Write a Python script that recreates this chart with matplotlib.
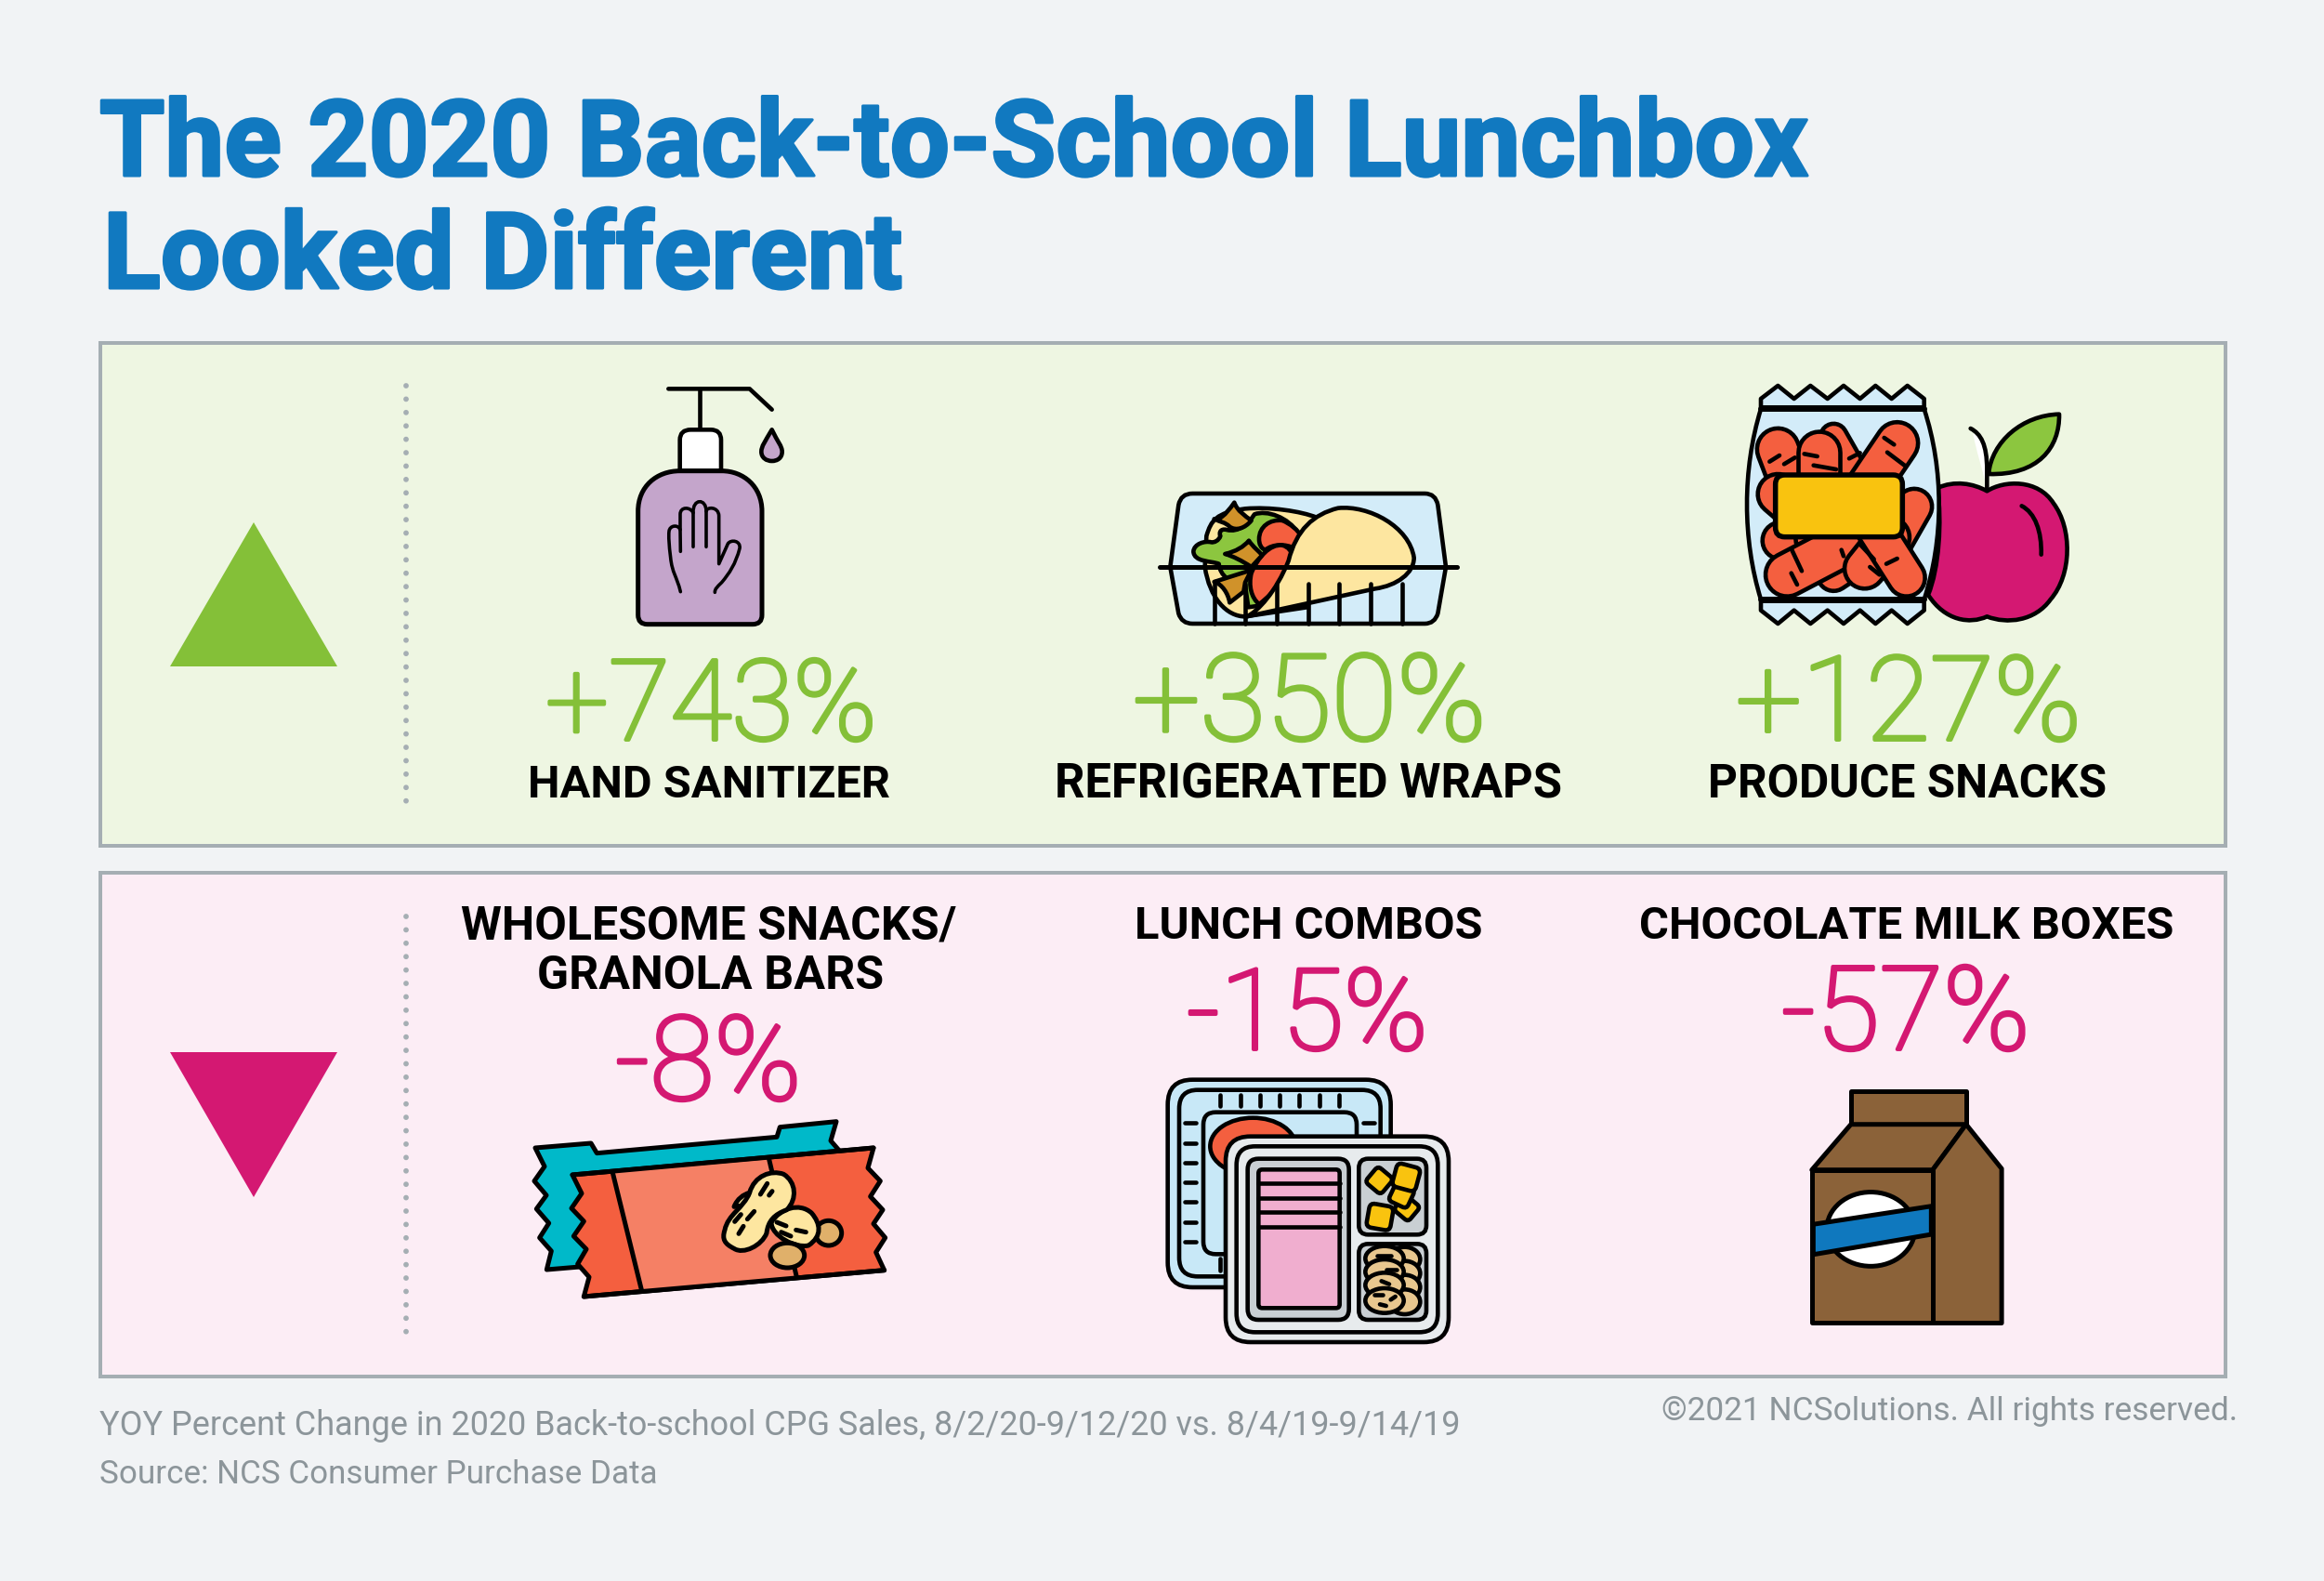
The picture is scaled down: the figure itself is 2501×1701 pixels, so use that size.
import re
import matplotlib
matplotlib.use("Agg")
import matplotlib.pyplot as plt
import matplotlib.patheffects as pe
from matplotlib.path import Path
from matplotlib.patches import PathPatch, Polygon, Rectangle, FancyBboxPatch, Ellipse
from matplotlib.font_manager import findfont, FontProperties
import numpy as np

# ---- data ----
TITLE_LINES = ["The 2020 Back-to-School Lunchbox", "Looked Different"]
UP_LABELS = ["HAND SANITIZER", "REFRIGERATED WRAPS", "PRODUCE SNACKS"]
UP_VALUES = [743, 350, 127]
DOWN_LABELS = [["WHOLESOME SNACKS/", "GRANOLA BARS"], ["LUNCH COMBOS"], ["CHOCOLATE MILK BOXES"]]
DOWN_VALUES = [-8, -15, -57]
NOTE_1 = "YOY Percent Change in 2020 Back-to-school CPG Sales, 8/2/20-9/12/20 vs. 8/4/19-9/14/19"
NOTE_2 = "Source: NCS Consumer Purchase Data"
COPYRIGHT = "©2021 NCSolutions. All rights reserved."

# ---- colours ----
BG = "#F1F3F5"; GREEN_BG = "#EEF6E2"; PINK_BG = "#FCEDF5"; BORDER = "#A5AEB3"
GREEN = "#84C038"; MAGENTA = "#D41872"; BLUE = "#1179C0"; GREY = "#8C959A"; K = "#000000"
ORANGE = "#F45F3F"; SKY = "#D3ECF9"; CREAM = "#FDE6A0"; LETTUCE = "#8CC63F"; MEAT = "#D0922A"
YELLOW = "#F9C30F"; LILAC = "#C4A5CB"; TEAL = "#00B9C9"

plt.rcParams["text.parse_math"] = False
fig = plt.figure(figsize=(25.01, 17.01), dpi=100, facecolor=BG)
ax = fig.add_axes([0, 0, 1, 1])
ax.set_xlim(0, 2501); ax.set_ylim(1701, 0); ax.axis("off")
renderer = fig.canvas.get_renderer()


def pick(cands, weight):
    for c in cands:
        try:
            findfont(FontProperties(family=c, weight=weight), fallback_to_default=False)
            return c
        except Exception:
            continue
    return "DejaVu Sans"


TITLE_FONT = pick(["Roboto", "Liberation Sans"], "bold")
LABEL_FONT = pick(["Roboto", "Liberation Sans"], "bold")
BIG_FONT = pick(["Roboto", "Liberation Sans"], "light")
NOTE_FONT = pick(["Roboto"], "normal")


def put(s, x0, x1, base, color, family, weight="normal", stroke=0):
    """Real text whose size is chosen so it spans x0..x1 (pixels)."""
    t = ax.text(x0, base, s, ha="left", va="baseline", fontsize=50, color=color,
                family=family, weight=weight, zorder=5)
    w = t.get_window_extent(renderer).width
    t.set_fontsize(50 * (x1 - x0) / w)
    if stroke:
        t.set_path_effects([pe.withStroke(linewidth=stroke, foreground=color)])
    return t


TOK = re.compile(r"[MLCQZ]|-?\d+\.?\d*")


def svg(d, ox, oy, sx=1 / 3, sy=1 / 3):
    toks = TOK.findall(d)
    verts, codes = [], []
    i = 0
    cmd = None
    def P(a, b):
        return (ox + float(a) * sx, oy + float(b) * sy)
    while i < len(toks):
        if toks[i] in "MLCQZ":
            cmd = toks[i]; i += 1
            if cmd == "Z":
                verts.append(verts[-1]); codes.append(Path.CLOSEPOLY)
                continue
        if cmd == "M":
            verts.append(P(toks[i], toks[i + 1])); codes.append(Path.MOVETO); i += 2; cmd = "L"
        elif cmd == "L":
            verts.append(P(toks[i], toks[i + 1])); codes.append(Path.LINETO); i += 2
        elif cmd == "Q":
            verts += [P(toks[i], toks[i + 1]), P(toks[i + 2], toks[i + 3])]
            codes += [Path.CURVE3, Path.CURVE3]; i += 4
        elif cmd == "C":
            verts += [P(toks[i], toks[i + 1]), P(toks[i + 2], toks[i + 3]), P(toks[i + 4], toks[i + 5])]
            codes += [Path.CURVE4] * 3; i += 6
    return Path(verts, codes)


class Icon:
    def __init__(self, ox, oy, sx=1 / 3, sy=1 / 3, lw=4.6):
        self.ox, self.oy, self.sx, self.sy, self.lw = ox, oy, sx, sy, lw

    def d(self, d, fc="none", lw=None, ec=K):
        lw = self.lw if lw is None else lw
        ax.add_patch(PathPatch(svg(d, self.ox, self.oy, self.sx, self.sy), fc=fc, ec=ec if lw > 0 else "none",
                               lw=lw * 0.72, capstyle="round", joinstyle="round", zorder=3))

    def rr(self, x0, y0, x1, y1, r, fc="none", lw=None):
        lw = self.lw if lw is None else lw
        X0 = self.ox + x0 * self.sx; X1 = self.ox + x1 * self.sx
        Y0 = self.oy + y0 * self.sy; Y1 = self.oy + y1 * self.sy
        R = r * self.sx
        ax.add_patch(FancyBboxPatch((X0 + R, Y0 + R), X1 - X0 - 2 * R, Y1 - Y0 - 2 * R,
                                    boxstyle=f"round,pad={R},rounding_size={R}", fc=fc, ec=K, lw=lw * 0.72, zorder=3))

    def el(self, cx, cy, rx, ry, fc, lw=None, angle=0):
        lw = self.lw if lw is None else lw
        ax.add_patch(Ellipse((self.ox + cx * self.sx, self.oy + cy * self.sy), 2 * rx * self.sx, 2 * ry * self.sy,
                             angle=angle, fc=fc, ec=K, lw=lw * 0.72, zorder=3))

    def cap(self, x0, y0, x1, y1, w, fc=ORANGE):
        xs = [self.ox + x0 * self.sx, self.ox + x1 * self.sx]
        ys = [self.oy + y0 * self.sy, self.oy + y1 * self.sy]
        W = w * self.sx
        ax.plot(xs, ys, color=K, lw=(W + self.lw) * 0.72, solid_capstyle="round", zorder=3)
        ax.plot(xs, ys, color=fc, lw=(W - self.lw) * 0.72, solid_capstyle="round", zorder=3)

    def sq(self, cx, cy, s, ang, fc):
        """Rounded square: corners cut and joined by quadratic curves."""
        a = np.radians(ang)
        R = np.array([[np.cos(a), -np.sin(a)], [np.sin(a), np.cos(a)]])
        h = s / 2; r = s * 0.22
        local = [(-h + r, -h), (h - r, -h), (h, -h), (h, -h + r), (h, h - r), (h, h), (h - r, h),
                 (-h + r, h), (-h, h), (-h, h - r), (-h, -h + r), (-h, -h), (-h + r, -h)]
        pts = (R @ np.array(local).T).T + [cx, cy]
        codes = [Path.MOVETO, Path.LINETO, Path.CURVE3, Path.CURVE3, Path.LINETO, Path.CURVE3, Path.CURVE3,
                 Path.LINETO, Path.CURVE3, Path.CURVE3, Path.LINETO, Path.CURVE3, Path.CURVE3]
        verts = [(self.ox + p[0] * self.sx, self.oy + p[1] * self.sy) for p in pts]
        ax.add_patch(PathPatch(Path(verts, codes), fc=fc, ec=K, lw=self.lw * 0.72, zorder=3))


# ---- panels ----
for y0, y1, fc in [(369, 910, GREEN_BG), (939, 1481, PINK_BG)]:
    ax.add_patch(Rectangle((108, y0), 2287, y1 - y0, fc=fc, ec=BORDER, lw=4 * 0.72, zorder=1))
ax.add_patch(Polygon([(273, 562), (363, 717), (183, 717)], closed=True, fc=GREEN, ec="none", zorder=2))
ax.add_patch(Polygon([(183, 1132), (363, 1132), (273, 1288)], closed=True, fc=MAGENTA, ec="none", zorder=2))
for y0, y1 in [(415, 864), (986, 1433)]:
    ax.plot([437, 437], [y0, y1], color=BORDER, lw=4.2, dash_capstyle="round",
            linestyle=(0, (0.001, 10.37 / 4.2)), zorder=2)

# ---- title ----
put(TITLE_LINES[0], 107, 1945, 189, BLUE, TITLE_FONT, "bold", stroke=2.2)
put(TITLE_LINES[1], 111, 971, 310, BLUE, TITLE_FONT, "bold", stroke=2.2)

# ---- numbers and labels ----
up_spans = [(587, 944), (1219, 1600), (1868, 2240)]
up_label_spans = [(568, 958), (1135, 1681), (1838, 2267)]
for v, lab, sp, ls in zip(UP_VALUES, UP_LABELS, up_spans, up_label_spans):
    put(f"{v:+d}%", sp[0], sp[1], 796, GREEN, BIG_FONT, "light", stroke=2.8)
    put(lab, ls[0], ls[1], 858, K, LABEL_FONT, "bold")

down_spans = [(662, 863, 1183), (1277, 1537, 1129), (1917, 2185, 1129)]
down_label_spans = [[(496, 1030, 1010), (578, 951, 1064)], [(1221, 1596, 1010)], [(1764, 2340, 1010)]]
for v, labs, sp, lss in zip(DOWN_VALUES, DOWN_LABELS, down_spans, down_label_spans):
    put(f"{v:+d}%", sp[0], sp[1], sp[2], MAGENTA, BIG_FONT, "light", stroke=2.8)
    for lab, ls in zip(labs, lss):
        put(lab, ls[0], ls[1], ls[2], K, LABEL_FONT, "bold")

put(NOTE_1, 107, 1571, 1544, GREY, NOTE_FONT)
put(NOTE_2, 107, 708, 1596, GREY, NOTE_FONT)
put(COPYRIGHT, 1788, 2409, 1528, GREY, NOTE_FONT)

# ---- icon: sanitizer ----
I = Icon(670, 410)
I.d("M248 25 L248 157")
I.d("M148 25 L410 25 L482 92")
I.d("M185 290 L185 190 Q185 157 220 157 L285 157 Q318 157 318 190 L318 290 Z", "#FFFFFF")
I.d("M50 755 L50 420 C50 340 110 290 185 290 L320 290 C390 290 450 340 450 420 L450 755 Q450 785 420 785 L80 785 Q50 785 50 755 Z", LILAC, lw=5)
I.d("M482 157 C460 195 448 210 448 228 C448 248 465 258 482 258 C500 258 515 248 515 228 C515 210 500 195 482 157 Z", LILAC)
I.d("M187 680 C175 630 160 620 155 570 C150 530 148 500 150 485 C152 465 180 462 186 480 L187 550", lw=3.6)
I.d("M186 480 L186 430 C186 405 218 405 228 425 L228 535", lw=3.6)
I.d("M228 425 C226 378 270 378 270 420 L270 535", lw=3.6)
I.d("M270 420 C272 405 310 405 311 435 L311 590 L340 525 C350 510 382 515 378 540 C365 590 345 620 320 650 C305 665 298 670 298 682", lw=3.6)

# ---- icon: wrap ----
I = Icon(1240, 510)
I.d("M130 63 L880 63 Q915 63 922 100 L948 300 L922 450 Q912 483 880 483 L130 483 Q95 483 85 450 L58 300 L85 100 Q92 63 130 63 Z", SKY)
I.d("M300 460 C240 460 185 400 170 300 L175 200 C190 150 205 125 300 112 C380 105 480 120 530 140 L500 430 Z", CREAM)
I.d("M190 220 C170 215 135 225 133 250 C135 285 190 280 215 290 C220 330 250 350 300 360 L310 430 L345 425 L420 250 L470 190 C440 140 370 115 330 130 C310 160 280 190 240 180 C220 175 215 190 220 200 C215 215 200 222 190 220 Z", LETTUCE)
I.d("M345 210 C345 170 380 145 420 150 C445 160 470 180 485 205 L460 240 C430 225 390 225 365 245 C350 240 345 225 345 210 Z", ORANGE)
I.d("M320 320 C340 270 380 225 420 230 C440 235 450 250 450 262 C435 320 400 380 345 420 C320 400 310 360 320 320 Z", ORANGE)
I.d("M305 460 C340 445 400 380 440 280 C465 180 520 130 600 110 C700 100 830 170 845 270 C845 320 790 360 720 370 Z", CREAM)
I.d("M200 145 C215 150 235 135 265 92 C275 120 300 135 320 150 C300 175 270 185 250 170 C235 155 220 155 200 145 Z", MEAT)
I.d("M235 258 C270 250 295 235 312 215 C325 235 345 250 355 262 L320 300 C290 280 260 265 235 258 Z", MEAT)
I.d("M200 348 L320 310 L300 350 L295 380 L250 415 C245 385 225 355 200 348 Z", MEAT)
I.d("M25 300 L985 300", lw=5)
for x in (200, 300, 402, 503, 604, 705, 807):
    I.d(f"M{x} 355 L{x} 483")

# ---- icon: produce snacks + apple ----
I = Icon(1860, 405)
I.d("M835 370 C890 335 1000 330 1050 410 C1110 490 1110 640 1040 720 C990 790 900 800 835 775 C780 800 700 790 645 705 C680 620 690 470 675 360 C730 335 790 345 835 370 Z", MAGENTA)
I.d("M947 418 C990 440 1012 500 1010 575")
I.d("M790 185 C800 240 820 300 832 350 L832 240 C830 210 810 190 790 185 Z", "#FFFFFF", lw=0)
I.d("M835 365 L835 300 C835 220 815 185 782 168")
I.d("M840 315 C850 210 950 125 1068 122 C1070 230 1000 320 840 315 Z", LETTUCE)
I.d("M105 100 L105 72 L160 30 L212 72 L265 30 L320 72 L372 30 L425 72 L475 30 L527 72 L578 30 L632 72 L632 100 Z", SKY)
I.d("M105 725 L105 755 L160 798 L212 755 L265 798 L320 755 L372 798 L425 755 L475 798 L527 755 L578 798 L632 755 L632 725 Z", SKY)
I.d("M105 105 L632 105 C696 300 696 525 632 720 L105 720 C45 525 45 300 105 105 Z", SKY)
I.d("M105 105 L632 105", lw=6)
I.d("M105 720 L632 720", lw=6)
for c in [(340, 195, 440, 370, 85), (160, 235, 200, 340, 135), (545, 215, 440, 370, 135),
          (295, 245, 295, 340, 135), (160, 380, 230, 440, 130), (600, 420, 520, 560, 115),
          (170, 530, 300, 480, 120), (340, 640, 400, 600, 105), (260, 510, 260, 525, 90),
          (190, 640, 400, 530, 140), (440, 620, 520, 520, 130), (575, 650, 460, 470, 120)]:
    I.cap(*c)
for dash in ["M133 275 L165 255", "M180 283 L215 262", "M245 250 L287 258", "M275 287 L348 300", "M390 265 L425 247",
             "M503 198 L535 220", "M513 245 L570 288", "M205 560 L237 628", "M203 635 L222 672",
             "M428 545 L470 590", "M457 615 L488 640", "M510 605 L545 588", "M365 560 L372 580"]:
    I.d(dash)
I.rr(152, 318, 562, 518, 30, YELLOW, lw=5.5)

# ---- icon: granola bar ----
I = Icon(560, 1190, lw=5)
I.d("M48 135 L228 120 L247 152 L828 100 L838 68 L1020 50 L1002 112 L1035 150 L500 500 L180 520 L85 528 L100 468 L62 425 L92 378 L52 332 L84 288 L45 242 L78 195 Z", TEAL)
I.d("M168 222 L1140 135 L1122 200 L1162 242 L1130 292 L1170 335 L1140 380 L1178 425 L1148 472 L1175 530 L205 615 L222 552 L185 510 L213 462 L172 420 L205 372 L165 330 L198 282 Z", ORANGE)
I.d("M300 215 L803 172 L892 552 L392 597 Z", "#F58065", lw=0)
I.d("M298 215 L392 597")
I.d("M803 172 L892 552")
I.d("M168 222 L1140 135")
I.d("M205 615 L1175 530")
I.el(995, 410, 42, 40, "#E0B06A")
I.d("M690 325 C700 300 720 285 740 280 L730 320 Z", CREAM)
I.d("M810 375 C840 330 900 310 940 345 C970 380 975 420 930 450 C890 460 810 420 810 375 Z", CREAM)
I.el(862, 482, 55, 40, "#E0B06A")
I.d("M660 400 C670 350 720 330 740 280 C755 225 810 205 850 220 C890 245 895 300 860 335 C820 350 800 370 795 410 C780 450 720 480 690 460 C660 445 650 430 660 400 Z", CREAM)
for dash in ["M775 285 L797 250", "M803 288 L813 275", "M692 373 L712 350", "M733 365 L755 340", "M705 412 L720 388",
             "M828 375 L858 387", "M890 400 L922 407", "M842 407 L873 420"]:
    I.d(dash)

# ---- icon: lunch combos ----
I = Icon(1240, 1150)
I.rr(50, 35, 770, 705, 80, "#C8E8F7")
I.rr(87, 68, 737, 670, 60)
I.rr(165, 140, 660, 598, 40)
I.el(325, 250, 138, 92, ORANGE)
for x in (220, 284, 347, 411, 475, 539, 602):
    I.d(f"M{x} 85 L{x} 120")
for y in (175, 239, 303, 367, 430, 494, 557):
    I.d(f"M105 {y} L142 {y}")
I.d("M682 175 L718 175")
I.d("M220 612 L220 650")
I.rr(237, 218, 957, 882, 80, "#E7EBED")
I.rr(272, 250, 922, 850, 60)
I.rr(308, 290, 635, 810, 35, "#C9CFD3")
I.rr(667, 290, 885, 535, 30, "#C9CFD3")
I.rr(667, 565, 885, 810, 30, "#C9CFD3")
I.rr(343, 325, 605, 772, 12, "#F0AECF")
for y in (370, 417, 462, 510):
    I.d(f"M343 {y} L605 {y}")
I.sq(822, 450, 62, 40, YELLOW)
I.sq(805, 408, 66, 25, YELLOW)
I.sq(733, 360, 66, 40, YELLOW)
I.sq(820, 350, 78, 15, YELLOW)
I.sq(735, 478, 78, 10, YELLOW)
for y in (615, 660, 705, 752):
    I.el(815, y, 50, 40, "#E8C78F")
for y in (612, 655, 698, 748):
    I.el(750, y, 62, 40, "#E8C78F")
for dash in ["M725 602 L770 602", "M755 648 L790 648", "M740 685 L765 695", "M718 730 L745 730", "M735 760 L755 765", "M770 745 L785 735"]:
    I.d(dash)

# ---- icon: milk carton (drawn from a differently scaled reading) ----
I = Icon(1200, 930, 1 / 1.307, 1 / 2.306, lw=5)
BROWN = "#8B6239"
I.d("M1035 562 L1197 562 L1197 645 L1035 645 Z", BROWN)
I.d("M1035 645 L980 758 L1150 758 L1197 645 Z", BROWN)
I.d("M1197 645 L1247 755 L1247 1138 L1150 1138 L1150 758 Z", BROWN)
I.d("M980 758 L1150 758 L1150 1138 L980 1138 Z", BROWN)
I.el(1063, 905, 62, 92, "#FFFFFF")
I.d("M982 893 L1148 848 L1148 918 L982 968 Z", "#0F78BE")

fig.savefig("out.png", dpi=100, facecolor=BG)
